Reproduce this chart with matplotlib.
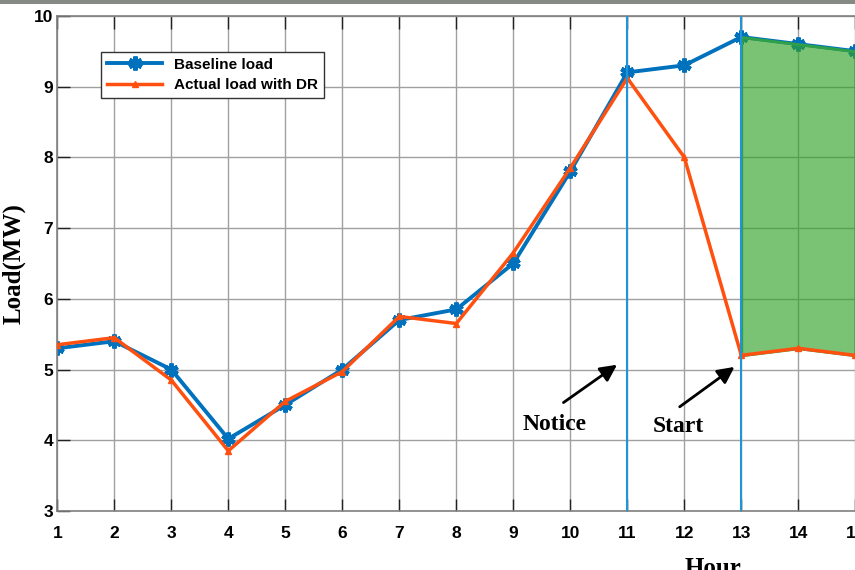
import numpy as np
import matplotlib
matplotlib.use("Agg")
from matplotlib import pyplot as plt
from matplotlib.patches import Rectangle

# data
hours = [1, 2, 3, 4, 5, 6, 7, 8, 9, 10, 11, 12, 13, 14, 15]
baseline = [5.3, 5.4, 5.0, 4.02, 4.5, 5.0, 5.7, 5.85, 6.5, 7.8, 9.2, 9.3, 9.7, 9.6, 9.5]
actual = [5.35, 5.45, 4.85, 3.85, 4.55, 4.97, 5.75, 5.65, 6.65, 7.85, 9.12, 8.0, 5.2, 5.3, 5.2]
notice_hour = 11
start_hour = 13
y_ticks = [3, 4, 5, 6, 7, 8, 9, 10]

fig = plt.figure(figsize=(8.55, 5.7), dpi=100)
ax = fig.add_axes([57.3 / 855, 59 / 570, 798 / 855, 495.2 / 570])

# gray strip at the very top of the screenshot
fig.patches.append(Rectangle((0, 566 / 570), 1, 4 / 570, transform=fig.transFigure,
                             facecolor='#858a85', edgecolor='none'))

ax.plot(hours, baseline, color='#0072BD', lw=2.8, marker=(6, 2, 0), ms=10, mew=3.2,
        label='Baseline load', zorder=2)

# shaded DR period
h = np.array(hours)
mask = h >= start_hour
ax.fill_between(h[mask], np.array(actual)[mask], np.array(baseline)[mask],
                facecolor=(0.2, 0.64, 0.16, 0.65), edgecolor='#2ea04a', lw=2, zorder=3)

ax.plot(hours, actual, color='#FF5010', lw=2.5, marker='^', ms=4.5,
        label='Actual load with DR', zorder=4)

ax.axvline(notice_hour, color='#1f94d8', lw=1.5, zorder=5)
ax.axvline(start_hour, color='#1f94d8', lw=1.5, zorder=5)

ax.set_xlim(1, 15)
ax.set_ylim(3, 10)
ax.set_xticks(hours)
ax.set_yticks(y_ticks)
ax.grid(True, color='#a0a0a0', lw=1.0)
ax.set_axisbelow(True)

for lab in ax.get_xticklabels() + ax.get_yticklabels():
    lab.set_fontfamily('Liberation Sans')
    lab.set_fontweight('bold')
    lab.set_fontsize(12.5)
ax.tick_params(axis='both', direction='in', length=9, width=1, color='#222222',
               top=True, right=False)
ax.tick_params(axis='x', pad=11)
ax.tick_params(axis='y', pad=3)
for s in ['left', 'bottom', 'top']:
    ax.spines[s].set_color('#808080')
    ax.spines[s].set_linewidth(1.2)
ax.spines['right'].set_visible(False)

ax.set_ylabel('Load(MW)', family='Liberation Serif', fontweight='bold', fontsize=18, labelpad=6)
fig.text(713 / 855, 13 / 570, 'Hour', family='Liberation Serif', fontweight='bold',
         fontsize=18, ha='center', va='top')

# annotations
ax.annotate('', xy=(10.86, 5.09), xytext=(9.84, 4.51),
            arrowprops=dict(arrowstyle='-|>', color='black', lw=2, mutation_scale=25))
ax.annotate('', xy=(12.92, 5.06), xytext=(11.88, 4.45),
            arrowprops=dict(arrowstyle='-|>', color='black', lw=2, mutation_scale=25))
ax.text(9.73, 4.22, 'Notice', family='Liberation Serif', fontweight='bold', fontsize=17,
        ha='center', va='center')
ax.text(11.89, 4.2, 'Start', family='Liberation Serif', fontweight='bold', fontsize=17,
        ha='center', va='center')

leg = ax.legend(loc='upper left', bbox_to_anchor=(0.0548, 0.9275), borderaxespad=0,
                fancybox=False, edgecolor='#333333', framealpha=1, handlelength=3.6,
                handletextpad=0.8, labelspacing=0.4, borderpad=0.4,
                prop={'family': 'Liberation Sans', 'weight': 'bold', 'size': 11})
leg.get_frame().set_linewidth(1.0)
leg.set_zorder(6)

fig.savefig('out.png', dpi=100)
